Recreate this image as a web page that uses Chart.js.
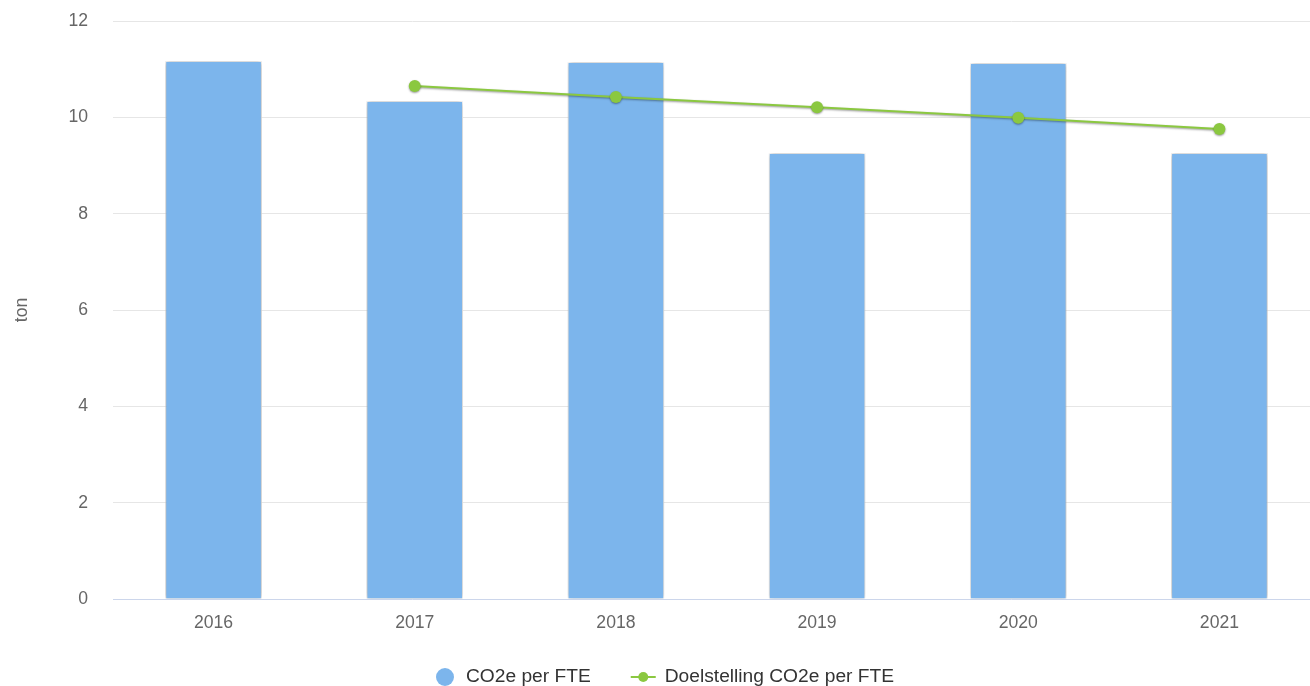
<!DOCTYPE html>
<html lang="nl">
<head>
    <meta charset="UTF-8">
    <title>CO2e per FTE</title>
    <style>
        * { margin: 0; padding: 0; box-sizing: border-box; }
        body { background: #ffffff; width: 1310px; height: 686px; overflow: hidden; }
        #wrap { position: relative; width: 1310px; height: 686px; }
    </style>
</head>
<body>
    <div id="wrap"><canvas id="co2Chart"></canvas></div>

    <script src="https://cdn.jsdelivr.net/npm/chart.js"></script>
    <script>
        // data
        const years = ['2016', '2017', '2018', '2019', '2020', '2021'];
        const co2PerFte = [11.17, 10.34, 11.15, 9.26, 11.13, 9.26];
        const doelstelling = [null, 10.65, 10.42, 10.21, 9.99, 9.76];
        const yTicks = [0, 2, 4, 6, 8, 10, 12];

        const barColor = '#7cb5ec';
        const lineColor = '#8bc840';
        const fontFamily = 'Liberation Sans, Arial, sans-serif';

        // soft shadow under bars and the line, like the original
        const shadowPlugin = {
            id: 'shadow',
            beforeDatasetDraw(chart, args) {
                const ctx = chart.ctx;
                ctx.save();
                if (args.index === 0) {
                    ctx.shadowColor = 'rgba(0,0,0,0.4)';
                    ctx.shadowBlur = 5;
                } else {
                    ctx.shadowColor = 'rgba(0,0,0,0.4)';
                    ctx.shadowBlur = 2;
                    ctx.shadowOffsetY = 1;
                }
            },
            afterDatasetDraw(chart) {
                chart.ctx.restore();
            }
        };

        // the original plot area runs ~10px past the right edge of the image
        const overhangPlugin = {
            id: 'overhang',
            afterLayout(chart) {
                const extra = 10;
                const s = chart.scales.x;
                s.right += extra;
                s.width += extra;
                s.configure();
                chart.chartArea.right += extra;
                chart.chartArea.width += extra;
            }
        };

        // legend drawn by hand so spacing matches the original
        const legendPlugin = {
            id: 'bottomLegend',
            afterDraw(chart) {
                const ctx = chart.ctx;
                const ds = chart.data.datasets;
                const y = 677;
                ctx.save();
                ctx.font = '19.2px ' + fontFamily;
                ctx.textBaseline = 'middle';
                ctx.textAlign = 'left';
                const w0 = ctx.measureText(ds[0].label).width;
                const w1 = ctx.measureText(ds[1].label).width;
                const total = 18 + 12 + w0 + 40 + 25 + 9 + w1;
                let x = chart.width / 2 + 10 - total / 2;

                // bar marker
                ctx.fillStyle = barColor;
                ctx.beginPath(); ctx.arc(x + 9, y, 9, 0, Math.PI * 2); ctx.fill();
                x += 18 + 12;
                ctx.fillStyle = '#333333';
                ctx.fillText(ds[0].label, x, y);
                x += w0 + 40;

                // line marker
                ctx.strokeStyle = lineColor;
                ctx.lineWidth = 2;
                ctx.beginPath(); ctx.moveTo(x, y); ctx.lineTo(x + 25, y); ctx.stroke();
                ctx.fillStyle = lineColor;
                ctx.beginPath(); ctx.arc(x + 12.5, y, 5, 0, Math.PI * 2); ctx.fill();
                x += 25 + 9;
                ctx.fillStyle = '#333333';
                ctx.fillText(ds[1].label, x, y);
                ctx.restore();
            }
        };

        const ctx = document.getElementById('co2Chart').getContext('2d');
        new Chart(ctx, {
            data: {
                labels: years,
                datasets: [{
                    type: 'bar',
                    label: 'CO2e per FTE',
                    data: co2PerFte,
                    backgroundColor: barColor,
                    borderColor: '#ffffff',
                    borderWidth: 1,
                    barPercentage: 0.48,
                    categoryPercentage: 1,
                    order: 2
                }, {
                    type: 'line',
                    label: 'Doelstelling CO2e per FTE',
                    data: doelstelling,
                    borderColor: lineColor,
                    backgroundColor: lineColor,
                    borderWidth: 2,
                    pointRadius: 6,
                    pointHoverRadius: 6,
                    pointBorderWidth: 0,
                    tension: 0,
                    order: 1
                }]
            },
            plugins: [shadowPlugin, overhangPlugin, legendPlugin],
            options: {
                responsive: true,
                maintainAspectRatio: false,
                animation: false,
                layout: { autoPadding: false, padding: { top: 21, right: 0, bottom: 0, left: 0 } },
                plugins: {
                    tooltip: { enabled: false },
                    legend: { display: false }
                },
                scales: {
                    x: {
                        afterFit(scale) {
                            scale.height = 87;
                            scale.paddingLeft = 0;
                            scale.paddingRight = 0;
                        },
                        grid: { display: false, drawTicks: false },
                        border: { display: true, color: '#ccd6eb', width: 1 },
                        ticks: {
                            padding: 14,
                            color: '#666666',
                            font: { family: fontFamily, size: 17.6 }
                        }
                    },
                    y: {
                        min: 0,
                        max: 12,
                        afterFit(scale) {
                            scale.width = 113;
                            scale.paddingTop = 0;
                            scale.paddingBottom = 0;
                        },
                        afterBuildTicks(scale) {
                            scale.ticks = yTicks.map(v => ({ value: v }));
                        },
                        grid: { color: '#e6e6e6', drawTicks: false },
                        border: { display: false },
                        ticks: {
                            padding: 25,
                            color: '#666666',
                            font: { family: fontFamily, size: 17.6 }
                        },
                        title: {
                            display: true,
                            text: 'ton',
                            color: '#666666',
                            padding: { top: 12, bottom: 0 },
                            font: { family: fontFamily, size: 17.6 }
                        }
                    }
                }
            }
        });
    </script>
</body>
</html>
